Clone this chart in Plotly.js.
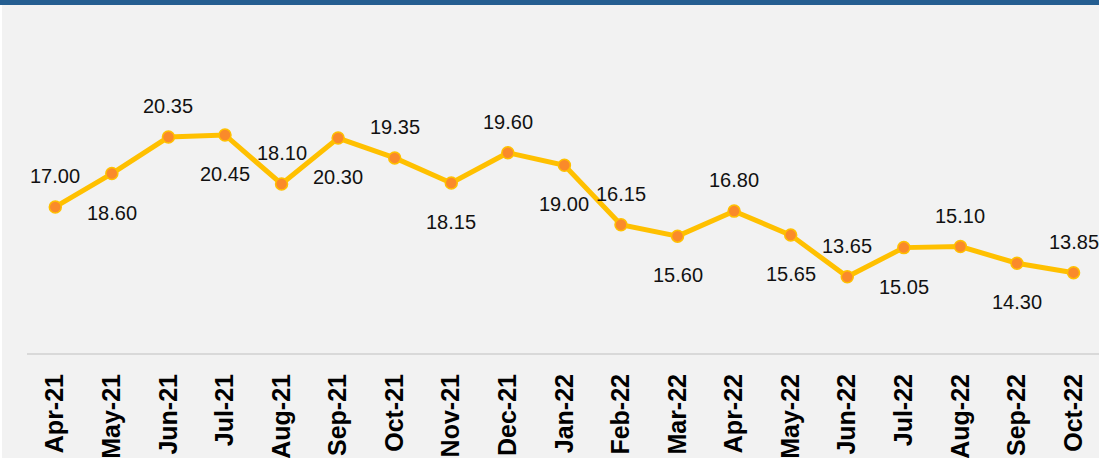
<!DOCTYPE html>
<html>
<head>
<meta charset="utf-8">
<script src="https://cdn.plot.ly/plotly-3.0.1.min.js"></script>
<style>
  html, body { margin: 0; padding: 0; background: #ffffff; overflow: hidden; }
  #wrap { position: relative; width: 1099px; height: 458px; }
  #chart { position: absolute; left: 0; top: 0; width: 1099px; height: 458px; }
  #topbar { position: absolute; left: 0; top: 0; width: 1099px; height: 5px; background: #255e91; }
  #leftstrip { position: absolute; left: 0; top: 5px; width: 2px; height: 453px; background: #ffffff; }
</style>
</head>
<body>
<div id="wrap">
  <div id="chart"></div>
  <div id="leftstrip"></div>
  <div id="topbar"></div>
</div>
<script>
const months = ["Apr-21","May-21","Jun-21","Jul-21","Aug-21","Sep-21","Oct-21","Nov-21","Dec-21",
                "Jan-22","Feb-22","Mar-22","Apr-22","May-22","Jun-22","Jul-22","Aug-22","Sep-22","Oct-22"];
const rates = [17.00,18.60,20.35,20.45,18.10,20.30,19.35,18.15,19.60,
               19.00,16.15,15.60,16.80,15.65,13.65,15.05,15.10,14.30,13.85];

const trace = {
  x: months,
  y: rates,
  type: 'scatter',
  mode: 'lines+markers',
  line: { color: '#ffc000', width: 5 },
  marker: { color: '#fa8a2a', size: 12, line: { color: '#ffc000', width: 1.5 } },
  hoverinfo: 'x+y',
  cliponaxis: false
};

// labels alternate above / below the points
const annotations = months.map((m, i) => ({
  x: m,
  y: rates[i],
  xref: 'x',
  yref: 'y',
  text: rates[i].toFixed(2),
  showarrow: false,
  yshift: (i % 2 === 0) ? 31 : -39,
  font: { family: 'Liberation Sans, Arial, sans-serif', size: 20, color: '#111111' }
}));

const layout = {
  width: 1099,
  height: 458,
  margin: { l: 27, r: 0, t: 40, b: 105, pad: 0 },
  paper_bgcolor: '#f2f2f2',
  plot_bgcolor: '#f2f2f2',
  showlegend: false,
  xaxis: {
    type: 'category',
    range: [-0.5, 18.45],
    showgrid: false,
    zeroline: false,
    showline: true,
    linecolor: '#d9d9d9',
    linewidth: 2,
    ticks: 'outside',
    ticklen: 9,
    tickcolor: 'rgba(0,0,0,0)',
    tickangle: -90,
    tickfont: { family: 'Liberation Sans, Arial, sans-serif', size: 25, color: '#000000', weight: 'bold' }
  },
  yaxis: {
    range: [10, 25],
    showgrid: false,
    zeroline: false,
    showline: false,
    showticklabels: false,
    ticks: ''
  },
  annotations: annotations
};

Plotly.newPlot('chart', [trace], layout, { displayModeBar: false, staticPlot: true });
</script>
</body>
</html>
